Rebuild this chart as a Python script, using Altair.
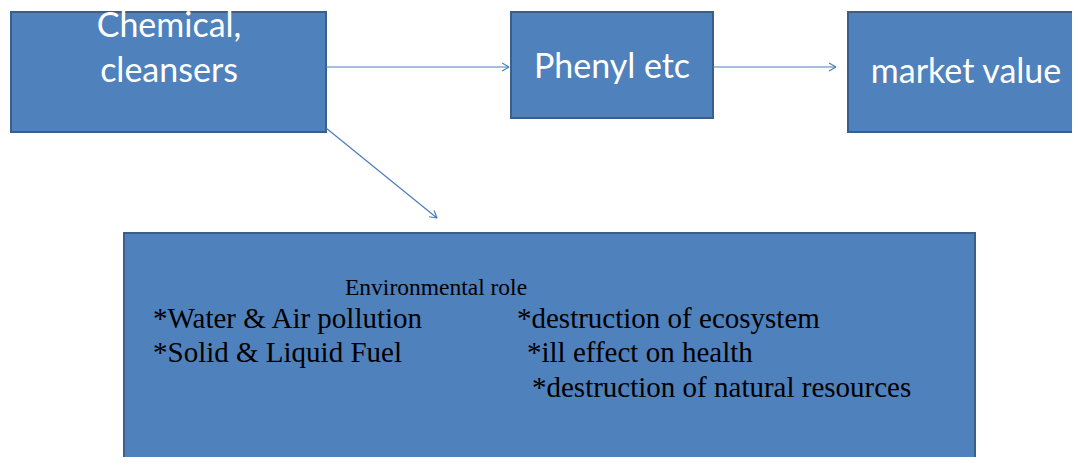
import math
import altair as alt
import pandas as pd

# ---- diagram content (in image pixels) ----
box_names = ["Chemical, cleansers", "Phenyl etc", "market value", "Environmental role"]
box_x0 = [11, 511, 848, 124]
box_x1 = [326, 713, 1095, 975]
box_y0 = [12, 12, 12, 233]
box_y1 = [132, 118, 132, 480]

top_labels = ["Chemical,", "cleansers", "Phenyl etc", "market value"]
top_label_x = [169, 169, 612, 966]
top_label_y = [37, 82, 78, 83]

body_lines = [
    "Environmental role",
    "*Water & Air pollution",
    "*destruction of ecosystem",
    "*Solid & Liquid Fuel",
    "*ill  effect  on health",
    "*destruction of natural resources",
]
body_x = [345, 153, 517, 153, 527, 532]
body_y = [295, 328, 328, 362, 362, 397]
body_size = [23.5, 29, 29, 29, 29, 29]

arrow_from_x = [326, 713, 326]
arrow_from_y = [67, 67, 128]
arrow_to_x = [509, 836, 437]
arrow_to_y = [67, 67, 218]

# ---- tables ----
boxes = pd.DataFrame({"name": box_names, "x0": box_x0, "x1": box_x1,
                      "y0": box_y0, "y1": box_y1})
labels = pd.DataFrame({"text": top_labels, "x": top_label_x, "y": top_label_y})
body = pd.DataFrame({"text": body_lines, "x": body_x, "y": body_y, "size": body_size})

segs = []
for fx, fy, tx, ty in zip(arrow_from_x, arrow_from_y, arrow_to_x, arrow_to_y):
    segs.append({"x": fx, "y": fy, "x2": tx, "y2": ty})
    ang = math.atan2(ty - fy, tx - fx)
    for d in (math.radians(150), math.radians(-150)):
        segs.append({"x": tx, "y": ty,
                     "x2": tx + 8 * math.cos(ang + d),
                     "y2": ty + 8 * math.sin(ang + d)})
arrows = pd.DataFrame(segs)

xs = alt.Scale(domain=[8, 1072], nice=False, zero=False)
ys = alt.Scale(domain=[8, 457], nice=False, zero=False, reverse=True)

rects = alt.Chart(boxes).mark_rect(
    fill="#4F81BD", stroke="#3A5F8B", strokeWidth=2, clip=True
).encode(
    x=alt.X("x0:Q", scale=xs, axis=None), x2="x1:Q",
    y=alt.Y("y0:Q", scale=ys, axis=None), y2="y1:Q",
)

lines = alt.Chart(arrows).mark_rule(color="#4A7EBB", strokeWidth=1.2).encode(
    x=alt.X("x:Q", scale=xs, axis=None), x2="x2:Q",
    y=alt.Y("y:Q", scale=ys, axis=None), y2="y2:Q",
)

top_text = alt.Chart(labels).mark_text(
    color="white", font="Lato", fontSize=34, align="center", baseline="alphabetic"
).encode(
    x=alt.X("x:Q", scale=xs, axis=None),
    y=alt.Y("y:Q", scale=ys, axis=None),
    text="text:N",
)

body_text = alt.Chart(body).mark_text(
    color="black", font="Liberation Serif", align="left", baseline="alphabetic"
).encode(
    x=alt.X("x:Q", scale=xs, axis=None),
    y=alt.Y("y:Q", scale=ys, axis=None),
    size=alt.Size("size:Q", scale=None, legend=None),
    text="text:N",
)

chart = alt.layer(rects, lines, top_text, body_text).properties(
    width=1064, height=449, autosize=alt.AutoSizeParams(type="none"), padding=0,
    background="white",
).configure_view(stroke=None)

chart.save("out.html", embed_options={"renderer": "svg", "actions": False})
